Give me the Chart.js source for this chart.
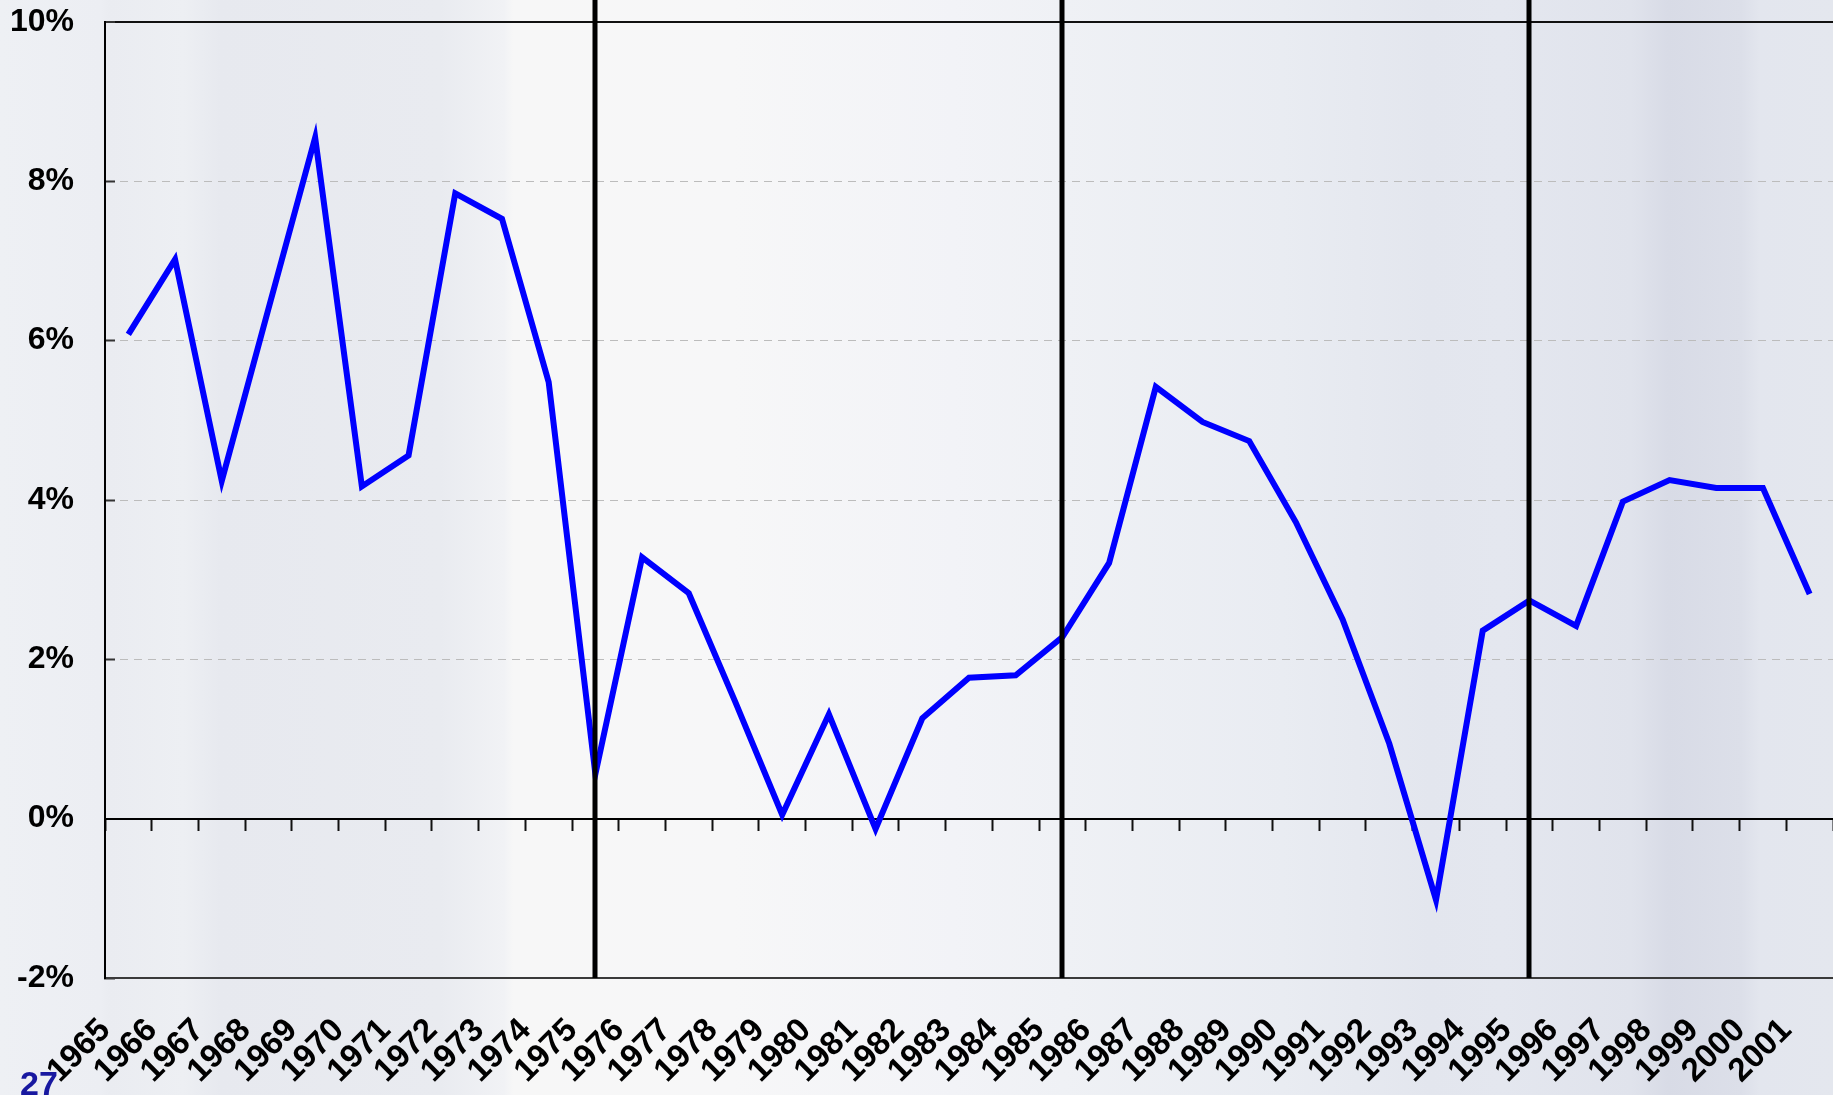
<!DOCTYPE html>
<html>
<head>
<meta charset="utf-8">
<style>
html,body{margin:0;padding:0;background:#eef0f4;overflow:hidden}
#wrap{position:relative;width:1833px;height:1095px}
#c{position:absolute;left:0;top:0;width:1833px;height:1095px}
#page{position:absolute;left:20px;top:1066px;font:bold 34px "Liberation Sans",Arial,sans-serif;color:#1818a0;line-height:1}
</style>
<script src="https://cdn.jsdelivr.net/npm/chart.js@4/dist/chart.umd.min.js"></script>
</head>
<body>
<div id="wrap">
<canvas id="c" width="1833" height="1095"></canvas>
<div id="page">27</div>
</div>
<script>
// ---- data ----
const years = ['1965','1966','1967','1968','1969','1970','1971','1972','1973','1974',
  '1975','1976','1977','1978','1979','1980','1981','1982','1983','1984',
  '1985','1986','1987','1988','1989','1990','1991','1992','1993','1994',
  '1995','1996','1997','1998','1999','2000','2001'];
const growth = [6.08, 7.02, 4.24, 6.40, 8.55, 4.17, 4.56, 7.85, 7.53, 5.48,
  0.56, 3.28, 2.83, 1.46, 0.05, 1.31, -0.13, 1.26, 1.77, 1.80,
  2.28, 3.21, 5.42, 4.98, 4.74, 3.72, 2.50, 0.94, -1.02, 2.36,
  2.74, 2.42, 3.98, 4.25, 4.15, 4.15, 2.82];
const yTickValues = [-2, 0, 2, 4, 6, 8, 10];
const markerYears = ['1975', '1985', '1995'];

// ---- styling ----
const FONT = '"Liberation Sans", Arial, Helvetica, sans-serif';
Chart.defaults.font.family = FONT;

const decor = {
  id: 'decor',
  beforeDraw(chart) {
    const ctx = chart.ctx, W = chart.width, H = chart.height;
    ctx.save();
    const g = ctx.createLinearGradient(0, 0, W, 0);
    g.addColorStop(0.00, '#eef0f4');
    g.addColorStop(0.055, '#eceef3');
    g.addColorStop(0.06, '#eaecf1');
    g.addColorStop(0.10, '#edeff3');
    g.addColorStop(0.12, '#e7e9ef');
    g.addColorStop(0.24, '#e9ebf0');
    g.addColorStop(0.275, '#f1f2f5');
    g.addColorStop(0.28, '#f7f7f7');
    g.addColorStop(0.40, '#f7f7f8');
    g.addColorStop(0.52, '#f2f3f7');
    g.addColorStop(0.58, '#eff1f5');
    g.addColorStop(0.70, '#e9ecf2');
    g.addColorStop(0.78, '#e3e6ee');
    g.addColorStop(0.82, '#e4e7ef');
    g.addColorStop(0.89, '#e0e3ec');
    g.addColorStop(0.91, '#d8dbe6');
    g.addColorStop(0.95, '#dcdfe9');
    g.addColorStop(0.96, '#e3e6ee');
    g.addColorStop(1.00, '#e4e7ee');
    ctx.fillStyle = g;
    ctx.fillRect(0, 0, W, H);
    ctx.restore();
  },
  afterDatasetsDraw(chart) {
    const ctx = chart.ctx, xs = chart.scales.x, area = chart.chartArea;
    ctx.save();
    ctx.strokeStyle = '#000';
    ctx.lineWidth = 5;
    markerYears.forEach(yr => {
      const px = Math.round(xs.getPixelForValue(years.indexOf(yr)));
      ctx.beginPath();
      ctx.moveTo(px, 0);
      ctx.lineTo(px, area.bottom);
      ctx.stroke();
    });
    ctx.restore();
  }
};

const tv = c => (c && c.tick) ? c.tick.value : null;

new Chart(document.getElementById('c'), {
  type: 'line',
  data: {
    labels: years,
    datasets: [{
      data: growth,
      xAxisID: 'x',
      yAxisID: 'y',
      borderColor: '#0000ff',
      borderWidth: 6,
      pointRadius: 0,
      tension: 0,
      fill: false,
      borderJoinStyle: 'miter',
      borderCapStyle: 'butt'
    }]
  },
  options: {
    responsive: false,
    animation: false,
    events: [],
    layout: { padding: { top: 22, left: 0, right: 0, bottom: 0 } },
    plugins: { legend: { display: false }, tooltip: { enabled: false } },
    scales: {
      x: {
        type: 'category',
        position: 'bottom',
        offset: true,
        grid: { display: false, offset: true },
        border: { display: true, color: '#3a3a3a', width: 2 },
        ticks: {
          autoSkip: false, minRotation: 45, maxRotation: 45,
          padding: 25, labelOffset: -23,
          color: '#000',
          font: { family: FONT, size: 33, weight: 'bold' }
        },
        afterFit(s) { s.height = 117; s.paddingLeft = 0; s.paddingRight = 0; }
      },
      x2: {
        type: 'category',
        axis: 'x',
        position: { y: 0 },
        offset: true,
        grid: {
          display: true, offset: true, drawOnChartArea: false, drawTicks: true,
          tickLength: 11, tickColor: '#111', tickWidth: 2, color: '#111'
        },
        border: { display: true, color: '#000', width: 2 },
        ticks: { display: false }
      },
      y: {
        type: 'linear',
        position: 'left',
        min: -2, max: 10,
        afterBuildTicks(s) { s.ticks = yTickValues.map(v => ({ value: v })); },
        grid: {
          color: c => { const v = tv(c); return v === 10 ? '#111' : v === 0 ? '#000' : v === -2 ? 'rgba(0,0,0,0)' : '#bcbcbc'; },
          lineWidth: c => { const v = tv(c); return (v === 10 || v === 0) ? 2 : 1; },
          drawTicks: true,
          tickLength: -10,
          tickColor: '#333',
          tickWidth: 2,
          tickBorderDash: []
        },
        border: {
          display: true, color: '#000', width: 2,
          dash: c => { const v = tv(c); return (v === null || v === 10 || v === 0) ? [] : [8, 6]; }
        },
        ticks: {
          padding: 41,
          color: '#000',
          font: { family: FONT, size: 32, weight: 'bold' },
          callback: v => v + '%'
        },
        afterFit(s) { s.width = 105; s.paddingTop = 0; s.paddingBottom = 0; }
      }
    }
  },
  plugins: [decor]
});
</script>
</body>
</html>
